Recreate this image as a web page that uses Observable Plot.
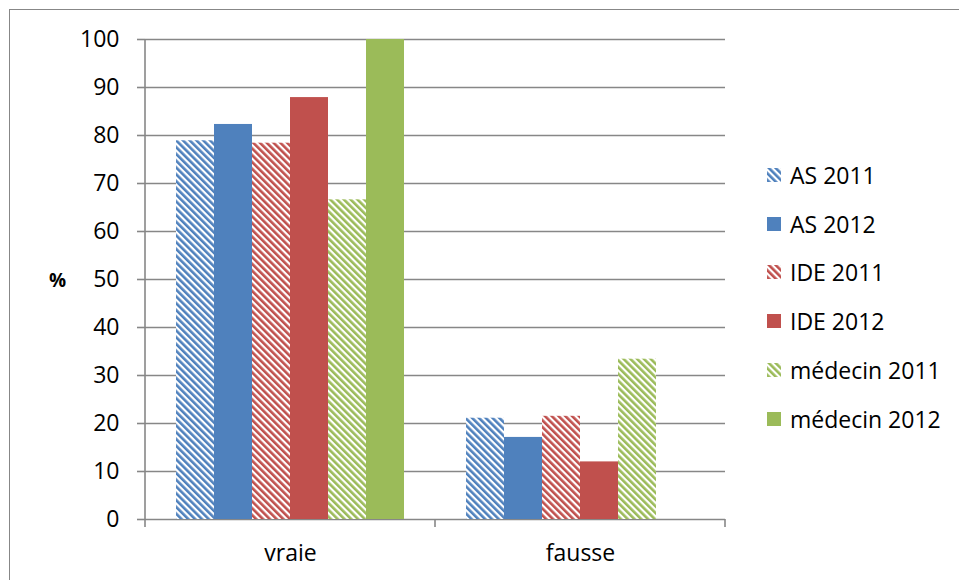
<!DOCTYPE html>
<html>
<head>
<meta charset="utf-8">
<script src="https://cdn.jsdelivr.net/npm/d3@7"></script>
<script src="https://cdn.jsdelivr.net/npm/@observablehq/plot@0.6"></script>
<style>
  html, body { margin: 0; padding: 0; background: #fff; overflow: hidden; }
  body { width: 959px; height: 580px; position: relative; font-family: "Open Sans", sans-serif; }
  #chart { position: absolute; left: 0; top: 0; }
  #border { position: absolute; left: 9px; top: 9px; width: 1100px; height: 700px; border: 1.5px solid #878787; box-sizing: border-box; pointer-events: none; z-index: 5; }
  #ylabel { position: absolute; left: 49px; top: 267px; font-size: 19px; font-weight: bold; color: #000; }
  #legend { position: absolute; left: 767px; top: 160px; }
  .item { position: absolute; left: 0; height: 30px; display: flex; align-items: center; white-space: nowrap; font-size: 23px; color: #000; }
  .item svg { width: 14px; height: 14px; margin-right: 9px; flex: none; }
</style>
</head>
<body>
<svg width="0" height="0" style="position:absolute">
  <defs>
    <pattern id="stripe-blue" patternUnits="userSpaceOnUse" width="4.8" height="4.8" patternTransform="rotate(-45)">
      <rect width="4.8" height="4.8" fill="#ffffff"/><rect width="2.6" height="4.8" fill="#4F81BD"/>
    </pattern>
    <pattern id="stripe-red" patternUnits="userSpaceOnUse" width="4.8" height="4.8" patternTransform="rotate(-45)">
      <rect width="4.8" height="4.8" fill="#ffffff"/><rect width="2.6" height="4.8" fill="#C0504D"/>
    </pattern>
    <pattern id="stripe-green" patternUnits="userSpaceOnUse" width="4.8" height="4.8" patternTransform="rotate(-45)">
      <rect width="4.8" height="4.8" fill="#ffffff"/><rect width="2.6" height="4.8" fill="#9BBB59"/>
    </pattern>
  </defs>
</svg>
<div id="chart"></div>
<div id="ylabel">%</div>
<div id="legend"></div>
<div id="border"></div>
<script>
const categories = ["vraie", "fausse"];
const series = ["AS 2011", "AS 2012", "IDE 2011", "IDE 2012", "médecin 2011", "médecin 2012"];
const vraieValues = [78.9, 82.3, 78.4, 87.9, 66.6, 100];
const fausseValues = [21.1, 17.1, 21.5, 12.0, 33.4, 0];
const seriesFills = ["url(#stripe-blue)", "#4F81BD", "url(#stripe-red)", "#C0504D", "url(#stripe-green)", "#9BBB59"];
const yTicks = [0, 10, 20, 30, 40, 50, 60, 70, 80, 90, 100];

const valuesByCategory = {vraie: vraieValues, fausse: fausseValues};
const rows = [];
for (const cat of categories) {
  series.forEach((s, i) => rows.push({cat, series: s, value: valuesByCategory[cat][i], fill: seriesFills[i]}));
}

const gray = "#878787";
const plot = Plot.plot({
  width: 740,
  height: 580,
  marginLeft: 145,
  marginRight: 15,
  marginTop: 39,
  marginBottom: 61,
  style: {fontFamily: "Open Sans, sans-serif", fontSize: "23px", background: "transparent", color: "#000"},
  fx: {domain: categories, padding: 0, axis: null},
  x: {domain: series, paddingInner: 0, paddingOuter: 0.75, axis: null},
  y: {domain: [0, 100], axis: null},
  color: {type: "identity"},
  marks: [
    Plot.ruleY(yTicks, {y: d => d, stroke: gray, strokeWidth: 1.6}),
    Plot.barY(rows, {fx: "cat", x: "series", y: "value", fill: "fill", inset: 0}),
    Plot.axisY({ticks: yTicks, tickSize: 8, tickPadding: 18, stroke: gray, strokeWidth: 1.6, fill: "#000", label: null, tickFormat: d => String(d), fontSize: 23}),
    Plot.axisFx({anchor: "bottom", tickSize: 0, tickPadding: 25, label: null, fill: "#000", fontSize: 23})
  ]
});
document.getElementById("chart").appendChild(plot);

// Excel-style axis line and category boundary ticks, positioned via Plot's scales
const fxScale = plot.scale("fx");
const yScale = plot.scale("y");
const bw = fxScale.bandwidth != null ? fxScale.bandwidth : (fxScale.range[1] - fxScale.range[0]) / categories.length;
const y0 = yScale.apply(0), yTop = yScale.apply(100);
const left = fxScale.apply(categories[0]);
const edges = [left, ...categories.map(c => fxScale.apply(c) + bw)];
const svg = d3.select(plot);
const g = svg.append("g").attr("stroke", gray).attr("stroke-width", 1.6);
g.append("line").attr("x1", left).attr("x2", left).attr("y1", yTop).attr("y2", y0);
edges.forEach(x => g.append("line").attr("x1", x).attr("x2", x).attr("y1", y0).attr("y2", y0 + 8));

// Legend
const legend = document.getElementById("legend");
const rowStep = 48.7;
series.forEach((s, i) => {
  const div = document.createElement("div");
  div.className = "item";
  div.style.top = (i * rowStep) + "px";
  div.innerHTML = `<svg viewBox="0 0 14 14"><rect width="14" height="14" fill="${seriesFills[i]}"/></svg><span>${s}</span>`;
  legend.appendChild(div);
});
</script>
</body>
</html>
